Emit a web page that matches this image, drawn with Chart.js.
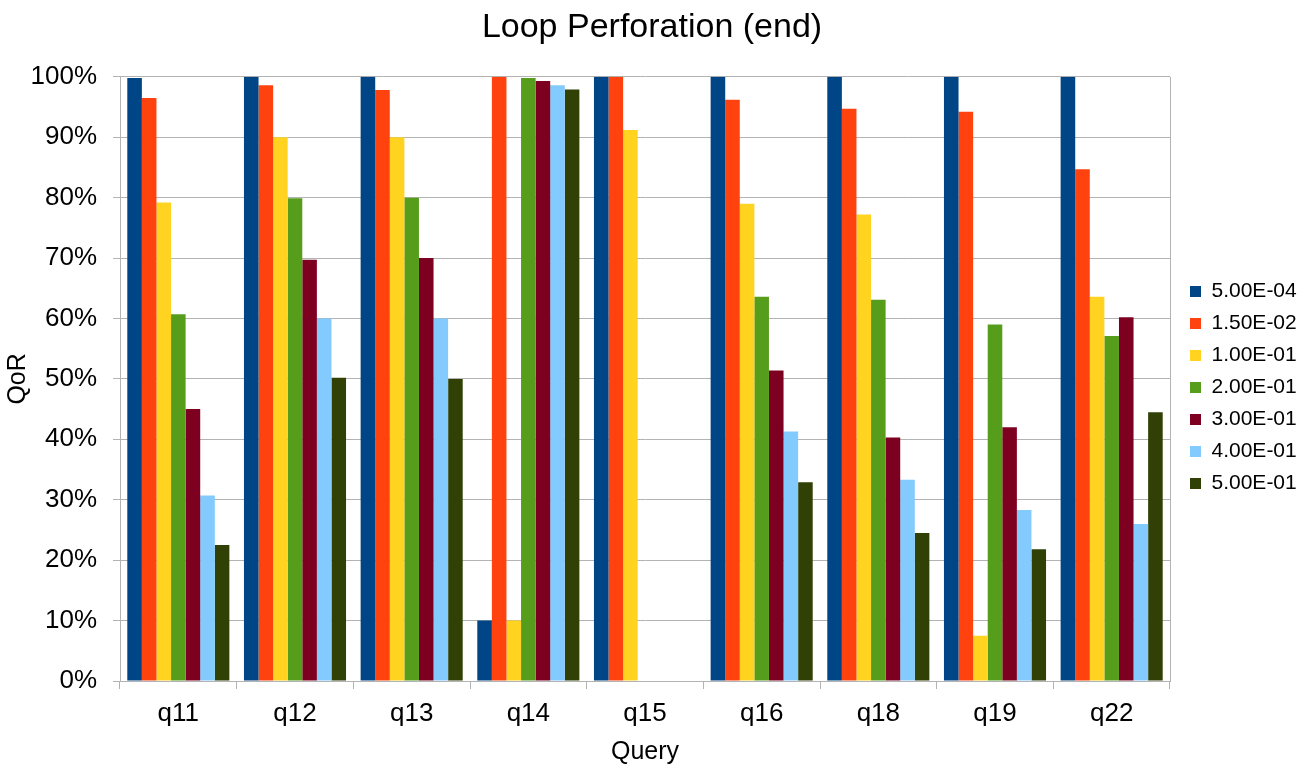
<!DOCTYPE html>
<html>
<head>
<meta charset="utf-8">
<script src="https://cdn.jsdelivr.net/npm/chart.js@4"></script>
<style>
  body { margin: 0; background: #fff; }
  #wrap { width: 1304px; height: 765px; }
</style>
</head>
<body>
<div id="wrap"><canvas id="qorChart"></canvas></div>
<script>
const queries = ["q11", "q12", "q13", "q14", "q15", "q16", "q18", "q19", "q22"];
const seriesNames = ["5.00E-04", "1.50E-02", "1.00E-01", "2.00E-01", "3.00E-01", "4.00E-01", "5.00E-01"];
const colors = ["#004586", "#ff420e", "#ffd320", "#579d1c", "#7e0021", "#83caff", "#314004"];

// QoR in percent, one array per perforation rate
const rate0005 = [99.8, 100, 100, 10, 100, 100, 100, 100, 100];
const rate015 = [96.5, 98.6, 97.8, 100, 100, 96.2, 94.7, 94.2, 84.7];
const rate1 = [79.2, 90, 90, 10, 91.2, 79.0, 77.2, 7.5, 63.6];
const rate2 = [60.7, 79.9, 80, 99.8, 0, 63.6, 63.1, 59.0, 57.1];
const rate3 = [45.0, 69.7, 70, 99.3, 0, 51.4, 40.3, 42.0, 60.2];
const rate4 = [30.7, 60, 60, 98.6, 0, 41.3, 33.3, 28.3, 26.0];
const rate5 = [22.5, 50.2, 50, 97.9, 0, 32.9, 24.5, 21.8, 44.5];

const allSeries = [rate0005, rate015, rate1, rate2, rate3, rate4, rate5];

Chart.defaults.font.family = "'Liberation Sans', Arial, sans-serif";
Chart.defaults.color = "#000";

// right-hand frame line of the plot area
const frameRight = {
  id: "frameRight",
  beforeDatasetsDraw(chart) {
    const { ctx, chartArea } = chart;
    ctx.save();
    ctx.strokeStyle = "#b3b3b3";
    ctx.lineWidth = 1;
    ctx.beginPath();
    ctx.moveTo(chartArea.right + 0.5, chartArea.top);
    ctx.lineTo(chartArea.right + 0.5, chartArea.bottom);
    ctx.stroke();
    ctx.restore();
  }
};

// keep the legend a bit wider and nudge it away from the plot
const legendSpacing = {
  id: "legendSpacing",
  beforeLayout(chart) {
    const lg = chart.legend;
    if (lg && !lg._patched) {
      const fit = lg.fit;
      lg.fit = function () {
        fit.call(this);
        this.width = Math.max(this.width, 134);
      };
      lg._patched = true;
    }
  },
  afterLayout(chart) {
    const lg = chart.legend;
    lg.left += 9; lg.right += 9;
    lg.top += 5; lg.bottom += 5;
  }
};

new Chart(document.getElementById("qorChart"), {
  type: "bar",
  data: {
    labels: queries,
    datasets: allSeries.map((vals, i) => ({
      label: seriesNames[i],
      data: vals,
      backgroundColor: colors[i],
      borderWidth: 0,
      barPercentage: 1,
      categoryPercentage: 0.875
    }))
  },
  options: {
    responsive: true,
    maintainAspectRatio: false,
    animation: false,
    layout: { padding: 0 },
    plugins: {
      title: {
        display: true,
        text: "Loop Perforation (end)",
        font: { size: 34, weight: "normal" },
        padding: { top: 7, bottom: 29 }
      },
      legend: {
        position: "right",
        labels: {
          boxWidth: 11,
          boxHeight: 11,
          padding: 11,
          font: { size: 21 }
        }
      },
      tooltip: { enabled: false }
    },
    scales: {
      x: {
        afterFit(scale) { scale.height = 84; },
        grid: {
          drawOnChartArea: false,
          drawTicks: true,
          tickLength: 8,
          color: "#b3b3b3"
        },
        border: { color: "#b3b3b3" },
        ticks: { font: { size: 26 }, padding: 9 },
        title: {
          display: true,
          text: "Query",
          font: { size: 25, lineHeight: 1 },
          padding: { top: 8, bottom: 0 }
        }
      },
      y: {
        min: 0,
        max: 100,
        afterFit(scale) { scale.width = 120; },
        grid: { color: "#b3b3b3", tickLength: 7 },
        border: { color: "#b3b3b3" },
        ticks: {
          stepSize: 10,
          font: { size: 26 },
          padding: 16,
          callback: v => v + "%"
        },
        title: {
          display: true,
          text: "QoR",
          font: { size: 25, lineHeight: 1 },
          padding: { top: 6, bottom: 0 }
        }
      }
    }
  },
  plugins: [frameRight, legendSpacing]
});
</script>
</body>
</html>
